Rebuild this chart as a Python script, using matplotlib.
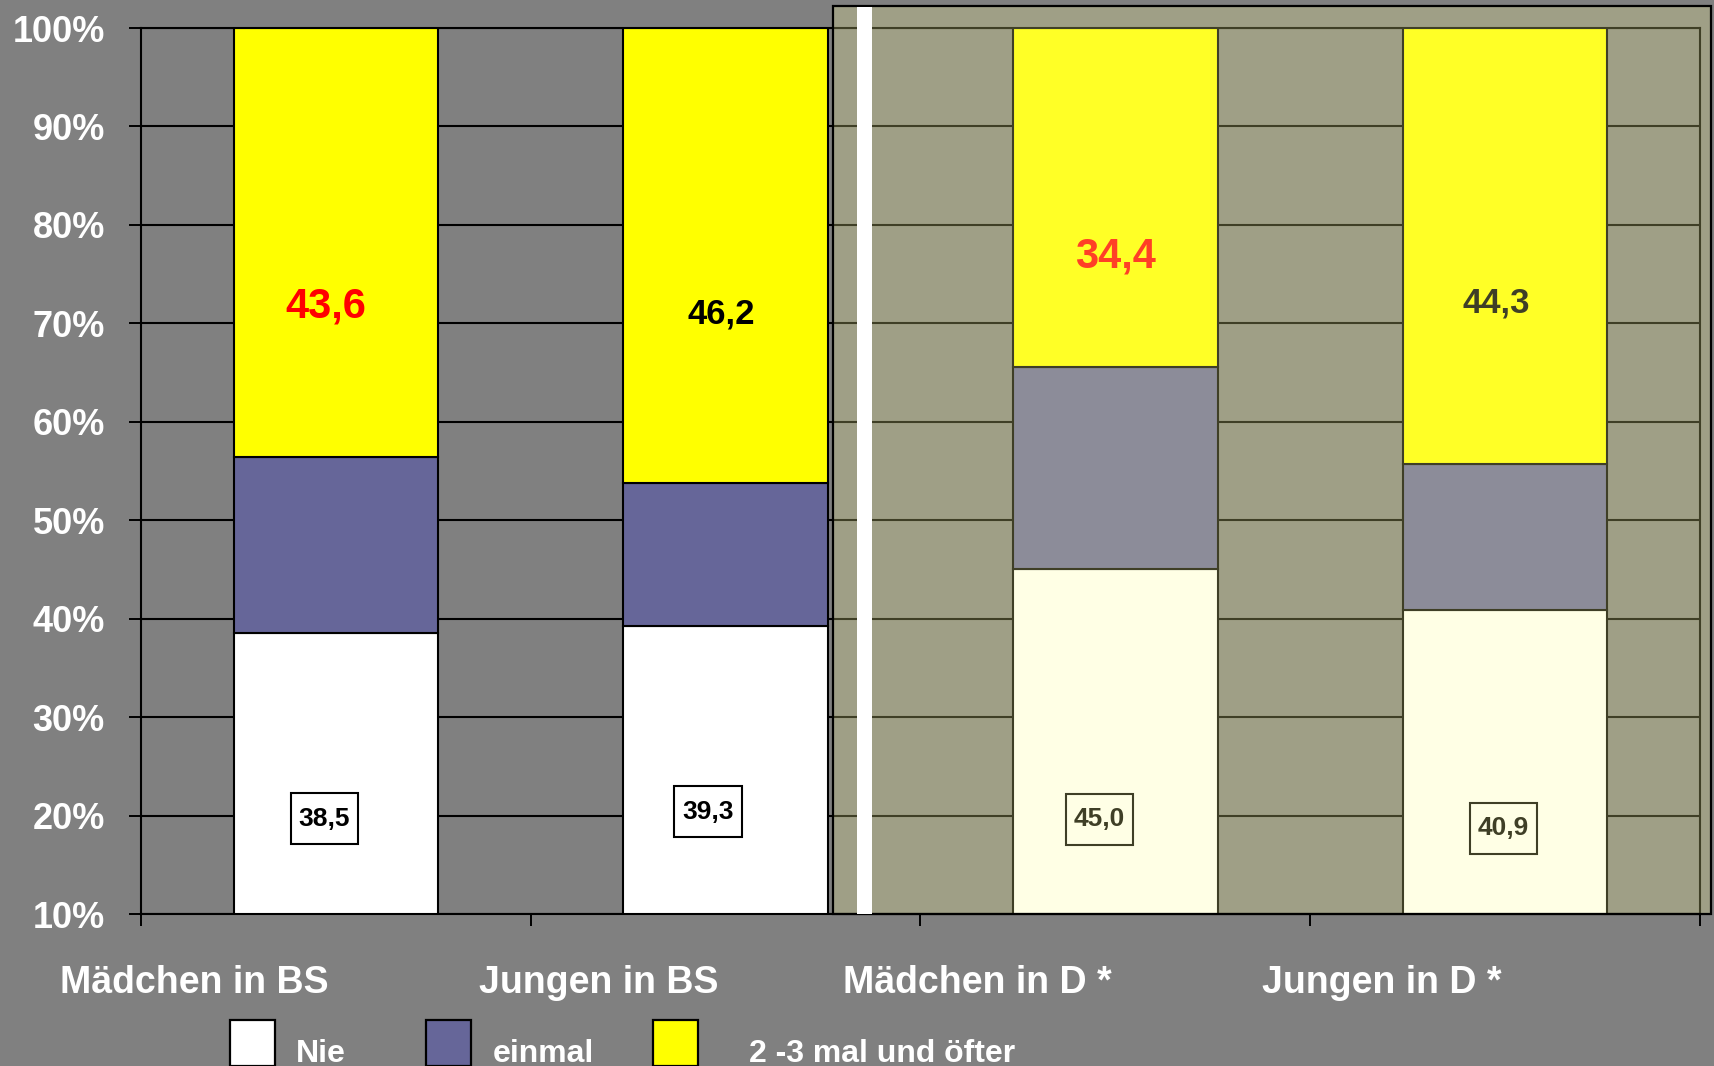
import numpy as np
import matplotlib.pyplot as plt
from matplotlib.patches import Rectangle
from matplotlib.path import Path

plt.rcParams['font.family'] = ['Liberation Sans', 'DejaVu Sans']
plt.rcParams['font.weight'] = 'bold'

# data
categories = ['Mädchen in BS', 'Jungen in BS', 'Mädchen in D *', 'Jungen in D *']
series = ['Nie', 'einmal', '2 -3 mal und öfter']
nie = [38.5, 39.3, 45.0, 40.9]
einmal = [17.9, 14.5, 20.6, 14.8]
oefter = [43.6, 46.2, 34.4, 44.3]
nie_labels = ['38,5', '39,3', '45,0', '40,9']
oefter_labels = ['43,6', '46,2', '34,4', '44,3']
yticks = [10, 20, 30, 40, 50, 60, 70, 80, 90, 100]

colors = ['#ffffff', '#666699', '#ffff00']
bg = '#808080'


def tall_box(x0, y0, width, height, mutation_size):
    # rectangle with more padding top/bottom than left/right
    px = 0.3 * mutation_size
    py = 0.5 * mutation_size
    x0, x1 = x0 - px, x0 + width + px
    y0, y1 = y0 - py, y0 + height + py
    return Path([(x0, y0), (x1, y0), (x1, y1), (x0, y1), (x0, y0)], closed=True)


W, H = 1715, 1066
fig = plt.figure(figsize=(W / 100, H / 100), dpi=100, facecolor=bg)
ax = fig.add_axes([141 / W, 1 - 914 / H, (1700 - 141) / W, (914 - 28) / H])
ax.set_facecolor(bg)

x = np.arange(len(categories))
bottom = np.zeros(len(categories))
for vals, col in zip([nie, einmal, oefter], colors):
    ax.bar(x, vals, bottom=bottom, width=0.525, color=col,
           edgecolor='black', linewidth=1.5, zorder=2)
    bottom += np.array(vals)

ax.set_xlim(-0.5, len(categories) - 0.5)
ax.set_ylim(10, 100)
ax.set_yticks(yticks)
ax.set_yticklabels([f'{v}%' for v in yticks])
ax.set_xticks(np.arange(-0.5, len(categories), 1.0))
ax.set_xticklabels([])
ax.yaxis.grid(True, color='black', linewidth=1.5, zorder=1)
ax.set_axisbelow(True)
for s in ax.spines.values():
    s.set_color('black')
    s.set_linewidth(1.5)
ax.tick_params(axis='y', direction='out', length=9, width=1.4, pad=17,
               labelsize=26, labelcolor='white', color='black')
ax.tick_params(axis='x', direction='out', length=8.5, width=1.4, color='black')
for lab in ax.get_yticklabels():
    lab.set_fontweight('bold')

# value labels on top segment
top_pos = [(-0.026, 71.7), (0.99, 70.9), (2.0, 76.8), (2.977, 72.1)]
top_col = ['#ff0000', 'black', '#ff0000', 'black']
top_size = [30, 25, 30, 25]
for (px, py), t, c, s in zip(top_pos, oefter_labels, top_col, top_size):
    ax.text(px, py, t, color=c, fontsize=s, fontweight='bold',
            ha='center', va='center', zorder=5)

# boxed labels in bottom segment
box_pos = [(-0.029, 19.7), (0.955, 20.4), (1.959, 19.6), (2.996, 18.7)]
for (px, py), t in zip(box_pos, nie_labels):
    ax.text(px, py, t, color='black', fontsize=19, fontweight='bold',
            ha='center', va='center', zorder=5,
            bbox=dict(boxstyle=tall_box, facecolor='white',
                      edgecolor='black', linewidth=1.5))

# tinted panel over the right half
px0, px1, py0, py1 = 833, 1711, 6, 914
fig.patches.append(Rectangle((px0 / W, 1 - py1 / H), (px1 - px0) / W, (py1 - py0) / H,
                             transform=fig.transFigure, facecolor='#ffff99',
                             alpha=0.25, edgecolor='none', zorder=5))
fig.patches.append(Rectangle((px0 / W, 1 - py1 / H), (px1 - px0) / W, (py1 - py0) / H,
                             transform=fig.transFigure, facecolor='none',
                             edgecolor='black', linewidth=1.6, zorder=6))
fig.patches.append(Rectangle((857 / W, 1 - py1 / H), 15 / W, (py1 - py0 - 1) / H,
                             transform=fig.transFigure, facecolor='white',
                             edgecolor='none', zorder=7))

# category labels
cat_x = [60, 479, 843, 1262]
for cx, c in zip(cat_x, categories):
    fig.text(cx / W, 1 - 993 / H, c, color='white', fontsize=27,
             fontweight='bold', ha='left', va='baseline')

# legend
sq_x = [230, 426, 653]
txt_x = [296, 493, 749]
for sx, tx, col, name in zip(sq_x, txt_x, colors, series):
    fig.patches.append(Rectangle((sx / W, 1 - 1066 / H), 45 / W, 46 / H,
                                 transform=fig.transFigure, facecolor=col,
                                 edgecolor='black', linewidth=1.6, zorder=3))
    fig.text(tx / W, 1 - 1062 / H, name, color='white', fontsize=23,
             fontweight='bold', ha='left', va='baseline')

fig.savefig('out.png', dpi=100, facecolor=bg)
